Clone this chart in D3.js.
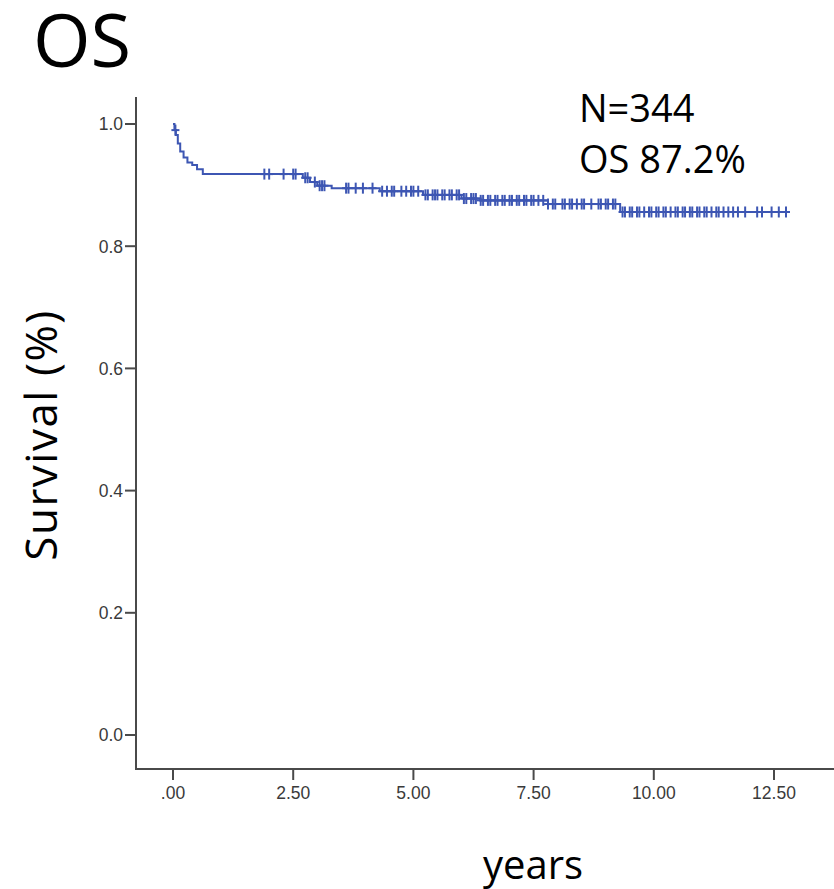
<!DOCTYPE html>
<html>
<head>
<meta charset="utf-8">
<script src="https://cdn.jsdelivr.net/npm/d3@7"></script>
<style>
  html, body { margin: 0; padding: 0; background: #fff; }
  svg { display: block; }
</style>
</head>
<body>
<svg id="chart" width="834" height="889"></svg>
<script>
// ---- Data ----
const stepTimes = [0, 0.03, 0.06, 0.1, 0.15, 0.22, 0.3, 0.4, 0.5, 0.62, 2.7, 2.85, 3.0, 3.3, 4.3, 5.2, 6.0, 6.4, 7.8, 9.3];
const stepSurvival = [1.0, 0.99, 0.982, 0.968, 0.955, 0.945, 0.937, 0.933, 0.926, 0.918, 0.912, 0.905, 0.899, 0.895, 0.890, 0.884, 0.878, 0.875, 0.869, 0.856];
const endTime = 12.75;
const censorTimes = [0.05,
  1.9, 2.0, 2.3, 2.5, 2.55, 2.75, 2.8, 2.95, 3.05, 3.1, 3.15, 3.6, 3.65, 3.8, 3.95, 4.15, 4.35, 4.45, 4.55, 4.6, 4.75, 4.85, 4.95, 5.0, 5.1,
  5.25, 5.3, 5.4, 5.45, 5.5, 5.6, 5.65, 5.75, 5.8, 5.9, 5.95, 6.05, 6.1, 6.2, 6.25, 6.3, 6.4, 6.45, 6.55, 6.6, 6.7, 6.75, 6.85, 6.9,
  7.0, 7.05, 7.15, 7.2, 7.3, 7.35, 7.45, 7.5, 7.6, 7.7, 7.8, 7.9, 7.95, 8.1, 8.15, 8.25, 8.3, 8.4, 8.5, 8.55, 8.7, 8.85, 8.9, 9.0, 9.05, 9.15, 9.2,
  9.35, 9.4, 9.5, 9.55, 9.65, 9.7, 9.8, 9.9, 9.95, 10.05, 10.1, 10.2, 10.25, 10.35, 10.45, 10.5, 10.6, 10.65, 10.75, 10.8, 10.9, 10.95,
  11.05, 11.1, 11.2, 11.3, 11.35, 11.45, 11.55, 11.65, 11.75, 11.9, 12.15, 12.25, 12.45, 12.6, 12.75];
const xTicks = [0, 2.5, 5, 7.5, 10, 12.5];
const xTickLabels = [".00", "2.50", "5.00", "7.50", "10.00", "12.50"];
const yTicks = [0, 0.2, 0.4, 0.6, 0.8, 1.0];
const yTickLabels = ["0.0", "0.2", "0.4", "0.6", "0.8", "1.0"];
const title = "OS";
const annotation = ["N=344", "OS 87.2%"];
const xTitle = "years";
const yTitle = "Survival (%)";

// ---- Layout ----
const svg = d3.select("#chart");
const axisX0 = 136, axisX1 = 834, axisYTop = 97, axisYBottom = 769;
const x = d3.scaleLinear().domain([0, 12.5]).range([173, 774]);
const y = d3.scaleLinear().domain([0, 1]).range([735, 124]);
const axisColor = "#4a4a4a";
const curveColor = "#3d56b3";

// Axis lines
svg.append("line").attr("x1", axisX0).attr("x2", axisX0).attr("y1", axisYTop).attr("y2", axisYBottom)
  .attr("stroke", axisColor).attr("stroke-width", 2);
svg.append("line").attr("x1", axisX0 - 1).attr("x2", axisX1).attr("y1", axisYBottom).attr("y2", axisYBottom)
  .attr("stroke", axisColor).attr("stroke-width", 2);

// Y ticks
const yg = svg.append("g");
yTicks.forEach((v, i) => {
  yg.append("line").attr("x1", axisX0 - 11).attr("x2", axisX0).attr("y1", y(v)).attr("y2", y(v))
    .attr("stroke", axisColor).attr("stroke-width", 2);
  yg.append("text").attr("x", axisX0 - 13).attr("y", y(v)).attr("dy", "0.36em")
    .attr("text-anchor", "end").attr("font-family", "Liberation Sans, Arial, sans-serif")
    .attr("font-size", 17.5).attr("fill", "#3a3a3a").text(yTickLabels[i]);
});
// X ticks
const xg = svg.append("g");
xTicks.forEach((v, i) => {
  xg.append("line").attr("x1", x(v)).attr("x2", x(v)).attr("y1", axisYBottom).attr("y2", axisYBottom + 11)
    .attr("stroke", axisColor).attr("stroke-width", 2);
  xg.append("text").attr("x", x(v)).attr("y", 799)
    .attr("text-anchor", "middle").attr("font-family", "Liberation Sans, Arial, sans-serif")
    .attr("font-size", 17.5).attr("fill", "#3a3a3a").text(xTickLabels[i]);
});

// Survival curve
const pts = stepTimes.map((t, i) => [t, stepSurvival[i]]);
pts.push([endTime, stepSurvival[stepSurvival.length - 1]]);
const line = d3.line().x(d => x(d[0])).y(d => y(d[1])).curve(d3.curveStepAfter);
svg.append("path").attr("d", line(pts)).attr("fill", "none")
  .attr("stroke", curveColor).attr("stroke-width", 2);

// Censor marks
function survAt(t) {
  let s = stepSurvival[0];
  for (let i = 0; i < stepTimes.length; i++) if (stepTimes[i] <= t) s = stepSurvival[i];
  return s;
}
const cg = svg.append("g").attr("stroke", curveColor).attr("stroke-width", 2);
censorTimes.forEach(t => {
  const cx = x(t), cy = y(survAt(t));
  cg.append("line").attr("x1", cx).attr("x2", cx).attr("y1", cy - 5.5).attr("y2", cy + 5.5);
  cg.append("line").attr("x1", cx - 4).attr("x2", cx + 4).attr("y1", cy).attr("y2", cy);
});

// Texts
const font = "Open Sans, Noto Sans, sans-serif";
svg.append("text").attr("x", 33).attr("y", 67).attr("font-family", font).attr("font-size", 74)
  .attr("fill", "#000").text(title);
svg.append("text").attr("x", 579).attr("y", 122).attr("font-family", font).attr("font-size", 38)
  .attr("fill", "#000").text(annotation[0]);
svg.append("text").attr("x", 579).attr("y", 173).attr("font-family", font).attr("font-size", 38)
  .attr("fill", "#000").text(annotation[1]);
svg.append("text").attr("x", 533).attr("y", 879).attr("text-anchor", "middle").attr("font-family", font)
  .attr("font-size", 40).attr("fill", "#000").text(xTitle);
svg.append("text").attr("transform", "translate(57,435) rotate(-90)").attr("text-anchor", "middle")
  .attr("font-family", font).attr("font-size", 44).attr("letter-spacing", 1.5)
  .attr("fill", "#000").text(yTitle);
</script>
</body>
</html>
